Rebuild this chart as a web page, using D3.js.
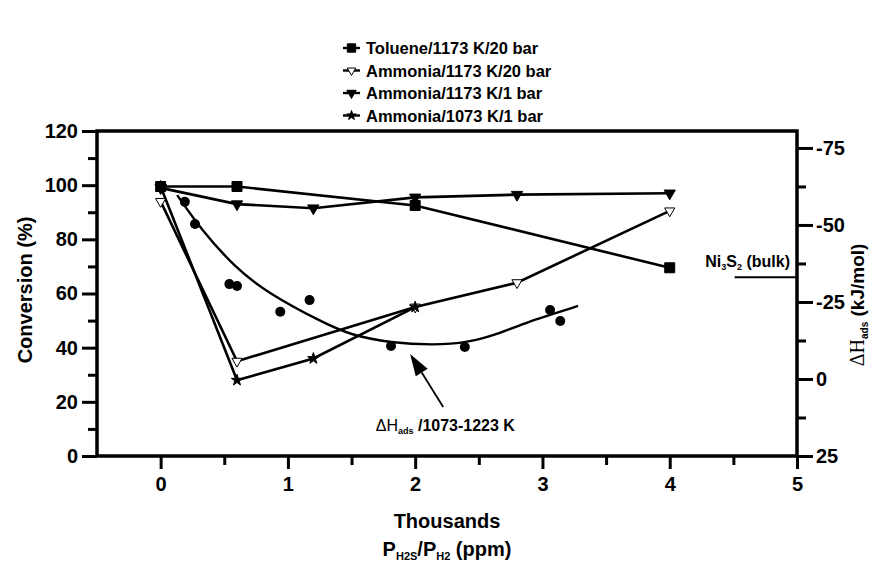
<!DOCTYPE html>
<html><head><meta charset="utf-8">
<script src="https://cdn.jsdelivr.net/npm/d3@7"></script>
<style>
body{margin:0;background:#fff}
text{font-family:"Liberation Sans",Arial,sans-serif;font-weight:bold;fill:#000}
</style>
</head><body><svg id="c" width="877" height="564"></svg>
<script>
// ---- data ----
const xTicks = [0, 1, 2, 3, 4, 5];
const xMinor = [0.5, 1.5, 2.5, 3.5, 4.5];
const yTicks = [0, 20, 40, 60, 80, 100, 120];
const yMinor = [10, 30, 50, 70, 90, 110];
const rTicks = [25, 0, -25, -50, -75];
const rMinor = [12.5, -12.5, -37.5, -62.5];

const seriesNames = ["Toluene/1173 K/20 bar", "Ammonia/1173 K/20 bar", "Ammonia/1173 K/1 bar", "Ammonia/1073 K/1 bar"];
const tolueneX = [0, 0.6, 2, 4];
const tolueneY = [99.5, 99.5, 92.5, 69.5];
const amm20X = [0, 0.6, 2, 2.8, 4];
const amm20Y = [94, 35, 55, 64, 90.5];
const amm1X = [0, 0.6, 1.2, 2, 2.8, 4];
const amm1Y = [99, 93, 91.5, 95.5, 96.5, 97];
const amm1073X = [0, 0.6, 1.2, 2];
const amm1073Y = [99.5, 28, 36, 55];
const dhX = [0.19, 0.27, 0.54, 0.6, 0.94, 1.17, 1.81, 2.39, 3.06, 3.14];
const dhY = [-57.5, -50.3, -30.8, -30.2, -21.8, -25.6, -10.7, -10.4, -22.4, -18.8];
const fitX = [0.13, 0.32, 0.58, 0.84, 1.28, 1.49, 1.81, 2.14, 2.41, 2.67, 2.93, 3.28];
const fitY = [-59.7, -48.4, -36.4, -27.9, -18.2, -14.3, -11.7, -11.0, -11.7, -14.9, -19.2, -23.7];
const bulkX = [4.51, 5];
const bulkDH = -33;

// ---- scales ----
const svg = d3.select("#c");
const L = 97, R = 797, T = 131, B = 456;
const x = d3.scaleLinear().domain([-0.5, 5]).range([L, R]);
const yL = d3.scaleLinear().domain([0, 120]).range([B, T]);
const yR = d3.scaleLinear().domain([25, -80.5]).range([B, T]);
const plain = d => String(d);

function styleAxis(g, size) {
  g.select(".domain").remove();
  g.selectAll(".tick line").attr("stroke", "#000").attr("stroke-width", 3);
  g.selectAll(".tick text").style("font-size", size + "px").style("font-family", '"Liberation Sans",Arial,sans-serif').style("font-weight", "bold");
}
// left axis
svg.append("g").attr("transform", `translate(${L},0)`)
  .call(d3.axisLeft(yL).tickValues(yMinor).tickSize(9).tickFormat(""))
  .call(g => styleAxis(g, 20));
svg.append("g").attr("transform", `translate(${L},0)`)
  .call(d3.axisLeft(yL).tickValues(yTicks).tickSize(15).tickPadding(4).tickFormat(plain))
  .call(g => styleAxis(g, 20));
// right axis
svg.append("g").attr("transform", `translate(${R},0)`)
  .call(d3.axisRight(yR).tickValues(rMinor).tickSize(9).tickFormat(""))
  .call(g => styleAxis(g, 20));
svg.append("g").attr("transform", `translate(${R},0)`)
  .call(d3.axisRight(yR).tickValues(rTicks).tickSize(16).tickPadding(3).tickFormat(plain))
  .call(g => styleAxis(g, 20));
// bottom axis
svg.append("g").attr("transform", `translate(0,${B})`)
  .call(d3.axisBottom(x).tickValues(xMinor).tickSize(9).tickFormat(""))
  .call(g => styleAxis(g, 20));
svg.append("g").attr("transform", `translate(0,${B})`)
  .call(d3.axisBottom(x).tickValues(xTicks).tickSize(13).tickPadding(8).tickFormat(plain))
  .call(g => styleAxis(g, 20));

// frame
svg.append("rect").attr("x", L).attr("y", T).attr("width", R - L).attr("height", B - T)
  .attr("fill", "none").attr("stroke", "#000").attr("stroke-width", 3.5);

// ---- series ----
const lineL = d3.line().x(d => x(d[0])).y(d => yL(d[1]));
const zip = (a, b) => a.map((v, i) => [v, b[i]]);
const series = [
  {name: seriesNames[0], data: zip(tolueneX, tolueneY), sym: d3.symbolSquare, size: 100, rot: 0, fill: "#000"},
  {name: seriesNames[1], data: zip(amm20X, amm20Y), sym: d3.symbolTriangle, size: 45, rot: 180, fill: "#fff"},
  {name: seriesNames[2], data: zip(amm1X, amm1Y), sym: d3.symbolTriangle, size: 55, rot: 180, fill: "#000"},
  {name: seriesNames[3], data: zip(amm1073X, amm1073Y), sym: d3.symbolStar, size: 40, rot: 0, fill: "#000"}
];
series.forEach(s => {
  svg.append("path").attr("d", lineL(s.data)).attr("fill", "none").attr("stroke", "#000").attr("stroke-width", 2.6);
});
series.forEach(s => {
  svg.selectAll(null).data(s.data).enter().append("path")
    .attr("d", d3.symbol().type(s.sym).size(s.size))
    .attr("transform", d => `translate(${x(d[0])},${yL(d[1])}) rotate(${s.rot})`)
    .attr("fill", s.fill).attr("stroke", "#000").attr("stroke-width", 1);
});

// fit curve (right axis)
const lineR = d3.line().x(d => x(d[0])).y(d => yR(d[1])).curve(d3.curveBasis);
svg.append("path").attr("d", lineR(zip(fitX, fitY))).attr("fill", "none").attr("stroke", "#000").attr("stroke-width", 2.4);
svg.selectAll(null).data(zip(dhX, dhY)).enter().append("circle")
  .attr("cx", d => x(d[0])).attr("cy", d => yR(d[1])).attr("r", 5).attr("fill", "#000");

// Ni3S2 bulk line
svg.append("line").attr("x1", x(bulkX[0])).attr("x2", x(bulkX[1])).attr("y1", yR(bulkDH)).attr("y2", yR(bulkDH))
  .attr("stroke", "#000").attr("stroke-width", 2);
const bulk = svg.append("text").attr("x", x(bulkX[1]) - 7).attr("y", yR(bulkDH) - 10).attr("text-anchor", "end").style("font-size", "16px");
bulk.append("tspan").text("Ni");
bulk.append("tspan").text("3").attr("dy", 3).style("font-size", "9px");
bulk.append("tspan").text("S").attr("dy", -3);
bulk.append("tspan").text("2").attr("dy", 3).style("font-size", "9px");
bulk.append("tspan").text(" (bulk)").attr("dy", -3);

// annotation arrow
const tip = [x(1.96), yL(37.7)], tail = [x(2.22), yL(18.1)];
const ang = Math.atan2(tail[1] - tip[1], tail[0] - tip[0]);
const hl = 22, hw = 7;
const bx = tip[0] + hl * Math.cos(ang), by = tip[1] + hl * Math.sin(ang);
svg.append("line").attr("x1", bx).attr("y1", by).attr("x2", tail[0]).attr("y2", tail[1]).attr("stroke", "#000").attr("stroke-width", 1.8);
svg.append("path").attr("d", `M${tip[0]},${tip[1]} L${bx - hw * Math.sin(ang)},${by + hw * Math.cos(ang)} L${bx + hw * Math.sin(ang)},${by - hw * Math.cos(ang)} Z`).attr("fill", "#000");
const ann = svg.append("text").attr("x", x(1.69)).attr("y", yL(9.2)).style("font-size", "16px");
ann.append("tspan").text("ΔH").style("font-family", '"Liberation Sans",Arial,sans-serif').style("font-weight", "normal");
ann.append("tspan").text("ads").attr("dy", 3).style("font-size", "9px");
ann.append("tspan").text(" /1073-1223 K").attr("dy", -3);

// axis titles
svg.append("text").attr("transform", "translate(32,290) rotate(-90)").attr("text-anchor", "middle").style("font-size", "20px").text("Conversion (%)");
const rt = svg.append("text").attr("transform", "translate(864,305) rotate(-90)").attr("text-anchor", "middle").style("font-size", "19px");
rt.append("tspan").text("ΔH").style("font-family", '"Liberation Serif","DejaVu Serif",serif').style("font-weight", "normal").style("font-size", "20px");
rt.append("tspan").text("ads").attr("dy", 4).style("font-size", "10px");
rt.append("tspan").text(" (kJ/mol)").attr("dy", -4);
svg.append("text").attr("x", 447).attr("y", 528).attr("text-anchor", "middle").style("font-size", "20px").text("Thousands");
const xt = svg.append("text").attr("x", 447).attr("y", 556).attr("text-anchor", "middle").style("font-size", "20px");
xt.append("tspan").text("P");
xt.append("tspan").text("H2S").attr("dy", 4).style("font-size", "11px");
xt.append("tspan").text("/P").attr("dy", -4);
xt.append("tspan").text("H2").attr("dy", 4).style("font-size", "11px");
xt.append("tspan").text(" (ppm)").attr("dy", -4);

// legend
const lg = svg.append("g");
series.forEach((s, i) => {
  const yy = 48 + i * 22.5;
  lg.append("line").attr("x1", 343).attr("x2", 360).attr("y1", yy).attr("y2", yy).attr("stroke", "#000").attr("stroke-width", 2.4);
  lg.append("path").attr("d", d3.symbol().type(s.sym).size(s.size * 0.7))
    .attr("transform", `translate(351.5,${yy}) rotate(${s.rot})`).attr("fill", s.fill).attr("stroke", "#000").attr("stroke-width", 1);
  lg.append("text").attr("x", 366).attr("y", yy + 6).style("font-size", "16.5px").text(s.name);
});
</script>
</body></html>
